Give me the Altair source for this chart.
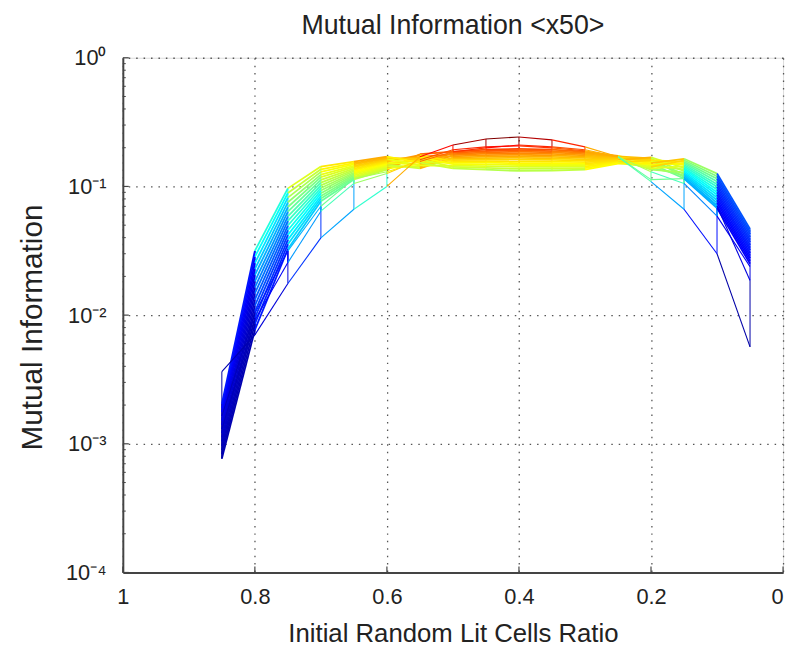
import altair as alt
import pandas as pd

# x positions (Initial Random Lit Cells Ratio)
x_ratio = [0.85, 0.80, 0.75, 0.70, 0.65, 0.60, 0.55, 0.50, 0.45,
           0.40, 0.35, 0.30, 0.25, 0.20, 0.15, 0.10, 0.05]

# three sparse (early) mesh rows
mi_r0 = [0.00364, 0.00702, 0.0176, 0.0398, 0.0665, 0.100, 0.170, 0.210, 0.234,
         0.2425, 0.230, 0.203, 0.170, 0.109, 0.0665, 0.030, 0.00567]
mi_r1 = [0.00164, 0.01035, 0.0316, 0.0702, 0.115, 0.130, 0.156, 0.186, 0.1995,
         0.210, 0.203, 0.193, 0.170, 0.113, 0.115, 0.0702, 0.0186]
mi_r2 = [0.00130, 0.00915, 0.0256, 0.0642, 0.1055, 0.126, 0.161, 0.193, 0.203,
         0.2066, 0.1995, 0.189, 0.170, 0.130, 0.1055, 0.0588, 0.0238]

# dense mesh rows, one column per x position (row 1 .. row 14)
d_085 = [7.67e-4, 8.28e-4, 8.91e-4, 9.62e-4, 1.04e-3, 1.117e-3, 1.205e-3, 1.30e-3, 1.40e-3, 1.51e-3, 1.63e-3, 1.76e-3, 1.89e-3, 2.04e-3]
d_080 = [7.67e-3, 8.55e-3, 9.53e-3, 1.064e-2, 1.186e-2, 1.32e-2, 1.476e-2, 1.644e-2, 1.83e-2, 2.05e-2, 2.28e-2, 2.54e-2, 2.84e-2, 3.16e-2]
d_075 = [3.27e-2, 3.56e-2, 3.86e-2, 4.20e-2, 4.57e-2, 4.97e-2, 5.40e-2, 5.86e-2, 6.37e-2, 6.92e-2, 7.53e-2, 8.18e-2, 8.89e-2, 9.66e-2]
d_070 = [0.0767, 0.0805, 0.0843, 0.0885, 0.0929, 0.0973, 0.102, 0.107, 0.1125, 0.118, 0.1236, 0.1297, 0.1358, 0.1426]
d_065 = [0.1132, 0.1161, 0.1189, 0.1219, 0.1250, 0.1279, 0.1312, 0.1343, 0.1377, 0.1413, 0.1445, 0.1483, 0.1517, 0.1556]
d_060 = [0.1352, 0.1377, 0.1400, 0.1426, 0.1452, 0.1476, 0.1503, 0.1531, 0.1556, 0.1585, 0.1614, 0.1644, 0.1671, 0.1702]
d_055 = [0.178, 0.150, 0.170, 0.142, 0.165, 0.138, 0.160, 0.147, 0.175, 0.155, 0.168, 0.145, 0.162, 0.153]
d_050 = [0.186, 0.1823, 0.1786, 0.1749, 0.1712, 0.1675, 0.1639, 0.1602, 0.1565, 0.1528, 0.1491, 0.1454, 0.1417, 0.138]
d_045 = [0.193, 0.1885, 0.1841, 0.1796, 0.1752, 0.1707, 0.1662, 0.1618, 0.1573, 0.1529, 0.1484, 0.1439, 0.1395, 0.135]
d_040 = [0.196, 0.1911, 0.1862, 0.1812, 0.1763, 0.1714, 0.1665, 0.1615, 0.1566, 0.1517, 0.1468, 0.1418, 0.1369, 0.132]
d_035 = [0.193, 0.1884, 0.1838, 0.1792, 0.1745, 0.1699, 0.1653, 0.1607, 0.1561, 0.1515, 0.1468, 0.1422, 0.1376, 0.133]
d_030 = [0.186, 0.1821, 0.1782, 0.1742, 0.1703, 0.1664, 0.1625, 0.1586, 0.1546, 0.1507, 0.1468, 0.1429, 0.1390, 0.135]
d_025 = [0.1730, 0.1710, 0.1694, 0.1675, 0.1656, 0.1641, 0.1622, 0.1603, 0.1585, 0.1570, 0.1552, 0.1535, 0.1521, 0.1503]
d_020 = [0.150, 0.165, 0.140, 0.158, 0.135, 0.162, 0.145, 0.168, 0.138, 0.155, 0.148, 0.160, 0.142, 0.152]
d_015 = [0.1153, 0.1186, 0.1219, 0.1250, 0.1285, 0.1321, 0.1358, 0.1393, 0.1432, 0.1472, 0.1514, 0.1552, 0.1596, 0.1641]
d_010 = [0.0678, 0.0711, 0.0746, 0.0782, 0.0820, 0.0861, 0.0902, 0.0946, 0.0993, 0.1040, 0.1091, 0.1146, 0.1199, 0.1259]
d_005 = [0.0251, 0.0264, 0.0277, 0.0290, 0.0304, 0.0319, 0.0334, 0.0351, 0.0368, 0.0385, 0.0405, 0.0425, 0.0445, 0.0467]

dense_cols = [d_085, d_080, d_075, d_070, d_065, d_060, d_055, d_050, d_045,
              d_040, d_035, d_030, d_025, d_020, d_015, d_010, d_005]

x_tick_values = [0, 0.2, 0.4, 0.6, 0.8, 1]
y_major_ticks = [1e-4, 1e-3, 1e-2, 1e-1, 1]
y_minor_ticks = [m * 10.0 ** k for k in range(-4, 0) for m in range(2, 10)]

# jet colormap
jet_pos = [0.0, 0.111, 0.365, 0.619, 0.873, 1.0]
jet_colors = ["#000090", "#0000ff", "#00ffff", "#ffff00", "#ff0000", "#800000"]

# ---- build mesh segments ----
n_dense = len(d_085)
dense_rows = [[col[i] for col in dense_cols] for i in range(n_dense)]
rows = [mi_r0, mi_r1, mi_r2] + dense_rows

recs = []
# column edges of the mesh (connect consecutive rows at the same x)
for r in range(len(rows) - 1):
    for j, xv in enumerate(x_ratio):
        recs.append(dict(x=xv, x2=xv, y=rows[r][j], y2=rows[r + 1][j],
                         c=rows[r][j], w=1.0))
# row edges (dense first, sparse on top)
for r in list(range(3, len(rows))) + [2, 1, 0]:
    w = 1.8 if r >= 3 else 1.1
    for j in range(len(x_ratio) - 1):
        recs.append(dict(x=x_ratio[j], x2=x_ratio[j + 1], y=rows[r][j],
                         y2=rows[r][j + 1], c=rows[r][j + 1], w=w))
df = pd.DataFrame(recs)

cmax = max(max(r) for r in rows)
color_domain = [p * cmax for p in jet_pos]

W, H = 667, 520
FONT = "Liberation Sans"
TXT = "#222222"
AX = "#444444"

xscale = alt.Scale(domain=[0, 1], reverse=True, nice=False, zero=False)
yscale = alt.Scale(type="log", domain=[1e-4, 1], nice=False)

ylabel_expr = ("datum.value > 0.5 ? '10\u2070' : datum.value > 0.05 ? '10\u207b\u00b9' : "
               "datum.value > 0.005 ? '10\u207b\u00b2' : datum.value > 0.0005 ? '10\u207b\u00b3' : '10\u207b\u2074'")

x_axis = alt.Axis(
    values=x_tick_values, format=".1~f", grid=True, ticks=False,
    gridDash=[1.5, 6], gridColor="#555555", gridWidth=1.3,
    domainColor=AX, domainWidth=2, labelFont=FONT, labelFontSize=22,
    labelColor=TXT, labelPadding=14, labelFlush=False, labelOverlap=False,
    labelAlign={"condition": {"test": "datum.value < 0.05", "value": "right"},
                "value": "center"},
    title="Initial Random Lit Cells Ratio", titleFont=FONT, titleFontSize=26,
    titleFontWeight="normal", titleColor=TXT, titleY=70,
    titleBaseline="alphabetic")
y_axis = alt.Axis(
    values=y_major_ticks, labelExpr=ylabel_expr, grid=True, ticks=False,
    gridDash=[1.5, 6], gridColor="#555555", gridWidth=1.3,
    domainColor=AX, domainWidth=2, labelFont=FONT, labelFontSize=22,
    labelColor=TXT, labelPadding=17, labelFlush=False, labelOverlap=False,
    title="Mutual Information", titleFont=FONT, titleFontSize=30,
    titleFontWeight="normal", titleColor=TXT, titleX=-82, titleY=272,
    titleAngle=270, titleAlign="center", titleBaseline="alphabetic")

mesh = alt.Chart(df).mark_rule(strokeCap="butt").encode(
    x=alt.X("x:Q", scale=xscale, axis=x_axis),
    x2="x2:Q",
    y=alt.Y("y:Q", scale=yscale, axis=y_axis),
    y2="y2:Q",
    color=alt.Color("c:Q", scale=alt.Scale(domain=color_domain, range=jet_colors,
                                           interpolate="rgb"), legend=None),
    strokeWidth=alt.StrokeWidth("w:Q", scale=None),
)

ymaj = alt.Chart(pd.DataFrame({"y": y_major_ticks})).mark_rule(color=AX, strokeWidth=1.2).encode(
    y=alt.Y("y:Q", scale=yscale, axis=y_axis), x=alt.value(0), x2=alt.value(6))
ymin = alt.Chart(pd.DataFrame({"y": y_minor_ticks})).mark_rule(color=AX, strokeWidth=1).encode(
    y=alt.Y("y:Q", scale=yscale, axis=y_axis), x=alt.value(0), x2=alt.value(3))
xmaj = alt.Chart(pd.DataFrame({"x": x_tick_values})).mark_rule(color=AX, strokeWidth=1.2).encode(
    x=alt.X("x:Q", scale=xscale, axis=x_axis), y=alt.value(H), y2=alt.value(H - 6))

chart = alt.layer(mesh, ymaj, ymin, xmaj).properties(
    width=W, height=H,
    title=alt.TitleParams("Mutual Information <x50>", font=FONT, fontSize=27,
                          fontWeight="normal", color=TXT, offset=7),
    autosize=alt.AutoSizeParams(type="none"),
    padding={"left": 116, "top": 47, "right": 5, "bottom": 71},
).configure_view(strokeWidth=0).configure(background="white")

chart.save("out.html", embed_options={"renderer": "svg", "actions": False})
